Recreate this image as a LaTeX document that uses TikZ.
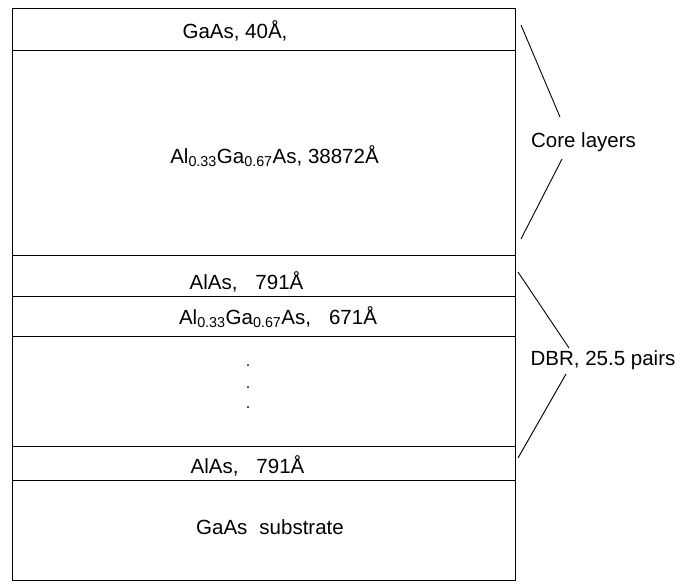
\documentclass[tikz,border=0pt]{standalone}
\usepackage{fontspec}
\setmainfont{Liberation Sans}
\begin{document}
\begin{tikzpicture}
[x=1pt, y=-1pt, font=\fontsize{20.5}{24}\selectfont]
\tikzstyle{layertext}=[anchor=base, inner sep=0pt]
\tikzstyle{edge}=[line width=1pt]
\tikzstyle{lead}=[line width=0.9pt]
\useasboundingbox (0,0) rectangle (676,582);
\draw[edge] (12,8) rectangle (515,580);
\foreach \y in {50.5, 255, 296, 336.5, 446, 480}
  \draw[edge] (12,\y) -- (515,\y);

\node[layertext] (cap)   at (235,38)    {GaAs, 40Å,};
\node[layertext] (clad)  at (274.5,163) {Al\textsubscript{0.33}Ga\textsubscript{0.67}As, 38872Å};
\node[layertext] (alas1) at (246.5,289) {AlAs,\hspace{18pt}791Å};
\node[layertext] (algaas)at (278,324)   {Al\textsubscript{0.33}Ga\textsubscript{0.67}As,\hspace{18pt}671Å};
\node[layertext] (alas2) at (247.5,473) {AlAs,\hspace{18pt}791Å};
\node[layertext] (sub)   at (270,534)   {GaAs\hspace{12pt}substrate};
\foreach \y in {365, 387, 407}
  \fill (248,\y) circle (1);

\node[layertext] (core) at (583.5,147) {Core layers};
\node[layertext] (dbr)  at (603,365)   {DBR, 25.5 pairs};
\coordinate (coreA) at (521,25);
\coordinate (coreB) at (560,117);
\coordinate (coreC) at (562,159);
\coordinate (coreD) at (521,239);
\coordinate (dbrA)  at (518,272);
\coordinate (dbrB)  at (569,348);
\coordinate (dbrC)  at (566,374);
\coordinate (dbrD)  at (518,458);
\draw[lead] (coreA) -- (coreB);
\draw[lead] (coreC) -- (coreD);
\draw[lead] (dbrA) -- (dbrB);
\draw[lead] (dbrC) -- (dbrD);
\end{tikzpicture}
\end{document}
